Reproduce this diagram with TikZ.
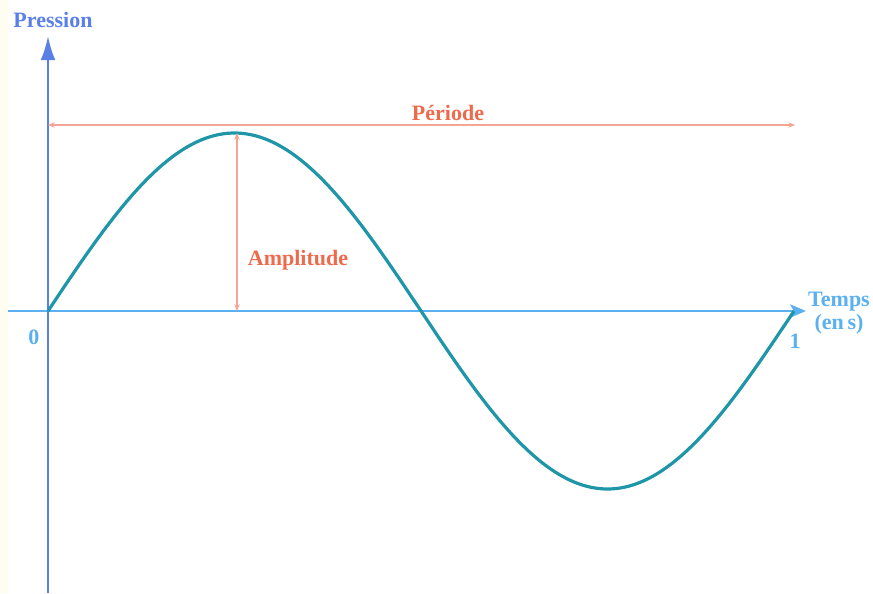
\documentclass[tikz,border=0pt]{standalone}
\usepackage{fontspec}
\setmainfont{Liberation Serif}
\usetikzlibrary{arrows.meta}
\definecolor{yaxis}{HTML}{5A80E8}
\definecolor{xaxis}{HTML}{5AB0F0}
\definecolor{wave}{HTML}{1F96A8}
\definecolor{orng}{HTML}{EE6A4C}
\definecolor{orngl}{HTML}{F4A595}
\definecolor{strip}{HTML}{FFFDF0}
\tikzset{
  lbl/.style={font=\bfseries\fontsize{16.5}{18}\selectfont, inner sep=0pt},
  ylbl/.style={lbl, text=yaxis},
  xlbl/.style={lbl, text=xaxis},
  olbl/.style={lbl, text=orng},
  dim/.style={draw=orngl, line width=1pt, {Stealth[length=5pt,width=4pt,fill=orng]}-{Stealth[length=5pt,width=4pt,fill=orng]}},
}
\begin{document}
\begin{tikzpicture}[x=0.75pt,y=-0.75pt]
\useasboundingbox (0,0) rectangle (873,593);
\fill[strip] (0,0) rectangle (8,593);
% coordinates
\coordinate (O) at (48,311);
\coordinate (ybot) at (48,593);
\coordinate (ytop) at (48,36);
\coordinate (xl) at (8,311);
\coordinate (xr) at (806,311);
\coordinate (pl) at (48,125);
\coordinate (pr) at (795,125);
\coordinate (peak) at (237,133);
\coordinate (base) at (237,311);
% axes
\draw[xaxis, line width=1.3pt, -{Stealth[length=12pt,width=10pt,inset=3pt]}] (xl) -- (xr);
\draw[yaxis, line width=1.6pt, -{Latex[length=18pt,width=11pt]}] (ybot) -- (ytop);
% wave
\draw[wave, line width=2.4pt] plot[domain=0:746, samples=240] ({48+\x},{311-178*sin(\x/746*360)});
% dimensions
\draw[dim] (pl) -- (pr);
\draw[dim] (peak) -- (base);
% labels
\node[ylbl] (pression) at (53,20) {Pression};
\node[olbl] (periode) at (448,113) {Période};
\node[olbl] (amp) at (298,260) {Amplitude};
\node[xlbl, align=center] (temps) at (839,313) {Temps\\[-1pt](en\,s)};
\node[xlbl] (zero) at (34,337) {0};
\node[xlbl] (one) at (795,341) {1};
\end{tikzpicture}
\end{document}
